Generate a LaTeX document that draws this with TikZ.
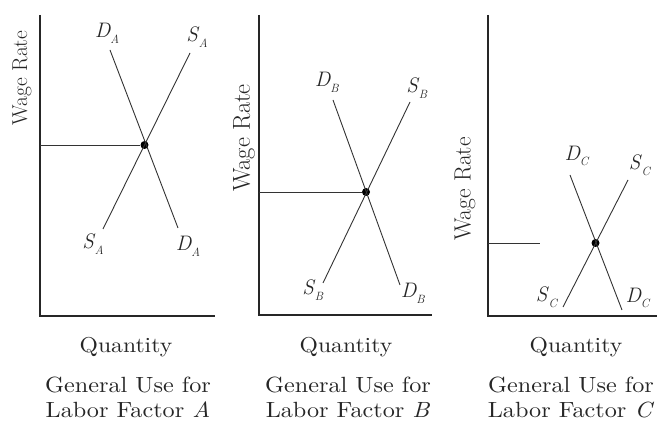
\documentclass[tikz,border=0pt]{standalone}
\usepackage{fontspec}
\newfontfamily\capfont{lmroman10}[Extension=.otf, UprightFont=*-regular, ItalicFont=*-italic, FakeStretch=1.1]
\newcommand\lblDS[2]{\textit{#1}\kern-0.5pt\raisebox{-0.28em}{\fontsize{12}{12}\selectfont\textit{#2}}}
\begin{document}
\begin{tikzpicture}[x=1pt,y=-1pt,
  axis/.style={line width=1.1pt, draw=black!85},
  curve/.style={line width=0.9pt, draw=black!80},
  level/.style={line width=0.9pt, draw=black!80},
  eqdot/.style={circle, fill=black, inner sep=0pt, minimum size=8pt},
  clabel/.style={inner sep=0pt, text=black!85, font=\fontsize{21}{24}\selectfont},
  wage/.style={rotate=90, inner sep=0pt, text=black!85},
  qty/.style={anchor=base, inner sep=0pt, text=black!85, font=\capfont\fontsize{21.5}{24}\selectfont},
  captext/.style={anchor=base, inner sep=0pt, text=black!85, font=\capfont\fontsize{22}{25}\selectfont}]
\useasboundingbox (0,0) rectangle (657,427);

% ---------- Panel A ----------
\coordinate (aT) at (40,15);
\coordinate (aO) at (40,316);
\coordinate (aR) at (215,316);
\draw[axis] (aT) -- (aO) -- (aR);
\node[eqdot] (eA) at (144.5,145) {};
\coordinate (dA1) at (110,50);
\coordinate (dA2) at (178,228);
\coordinate (sA1) at (190,53);
\coordinate (sA2) at (103,229);
\draw[curve] (dA1) -- (dA2);
\draw[curve] (sA1) -- (sA2);
\draw[level] (aO |- eA) -- (eA);
\node[clabel] (lDA1) at (107,33) {\lblDS{D}{A}};
\node[clabel] (lSA1) at (197,37) {\lblDS{S}{A}};
\node[clabel] (lSA2) at (93,244) {\lblDS{S}{A}};
\node[clabel] (lDA2) at (188,246) {\lblDS{D}{A}};
\node[wage, font=\fontsize{21.5}{24}\selectfont] (wA) at (22,78) {Wage Rate};
\node[qty] (qA) at (126,353) {Quantity};
\node[captext] (gA) at (128,393) {General Use for};
\node[captext] (fA) at (128,418) {Labor Factor \textit{A}};

% ---------- Panel B ----------
\coordinate (bT) at (259,15);
\coordinate (bO) at (259,315);
\coordinate (bR) at (432,315);
\draw[axis] (bT) -- (bO) -- (bR);
\node[eqdot] (eB) at (366,192) {};
\coordinate (dB1) at (333,100);
\coordinate (dB2) at (400,285);
\coordinate (sB1) at (410,102);
\coordinate (sB2) at (323,283);
\draw[curve] (dB1) -- (dB2);
\draw[curve] (sB1) -- (sB2);
\draw[level] (bO |- eB) -- (eB);
\node[clabel] (lDB1) at (327,82) {\lblDS{D}{B}};
\node[clabel] (lSB1) at (417,88) {\lblDS{S}{B}};
\node[clabel] (lSB2) at (313,290) {\lblDS{S}{B}};
\node[clabel] (lDB2) at (413,293) {\lblDS{D}{B}};
\node[wage, font=\fontsize{24.5}{27}\selectfont] (wB) at (244,138) {Wage Rate};
\node[qty] (qB) at (346,353) {Quantity};
\node[captext] (gB) at (348,393) {General Use for};
\node[captext] (fB) at (348,418) {Labor Factor \textit{B}};

% ---------- Panel C ----------
\coordinate (cT) at (488,15);
\coordinate (cO) at (488,316);
\coordinate (cR) at (657,316);
\draw[axis] (cT) -- (cO) -- (cR);
\node[eqdot] (eC) at (595.5,243) {};
\coordinate (dC1) at (570,175);
\coordinate (dC2) at (622,310);
\coordinate (sC1) at (628,180);
\coordinate (sC2) at (563,307);
\coordinate (hC) at (540,243);
\draw[curve] (dC1) -- (dC2);
\draw[curve] (sC1) -- (sC2);
\draw[level] (cO |- hC) -- (hC);
\node[clabel] (lDC1) at (577,156) {\lblDS{D}{C}};
\node[clabel] (lSC1) at (640,165) {\lblDS{S}{C}};
\node[clabel] (lSC2) at (547,297) {\lblDS{S}{C}};
\node[clabel] (lDC2) at (638,298) {\lblDS{D}{C}};
\node[wage, font=\fontsize{23.5}{26}\selectfont] (wC) at (465,189) {Wage Rate};
\node[qty] (qC) at (576,353) {Quantity};
\node[captext] (gC) at (571,393) {General Use for};
\node[captext] (fC) at (571,418) {Labor Factor \textit{C}};
\end{tikzpicture}
\end{document}
